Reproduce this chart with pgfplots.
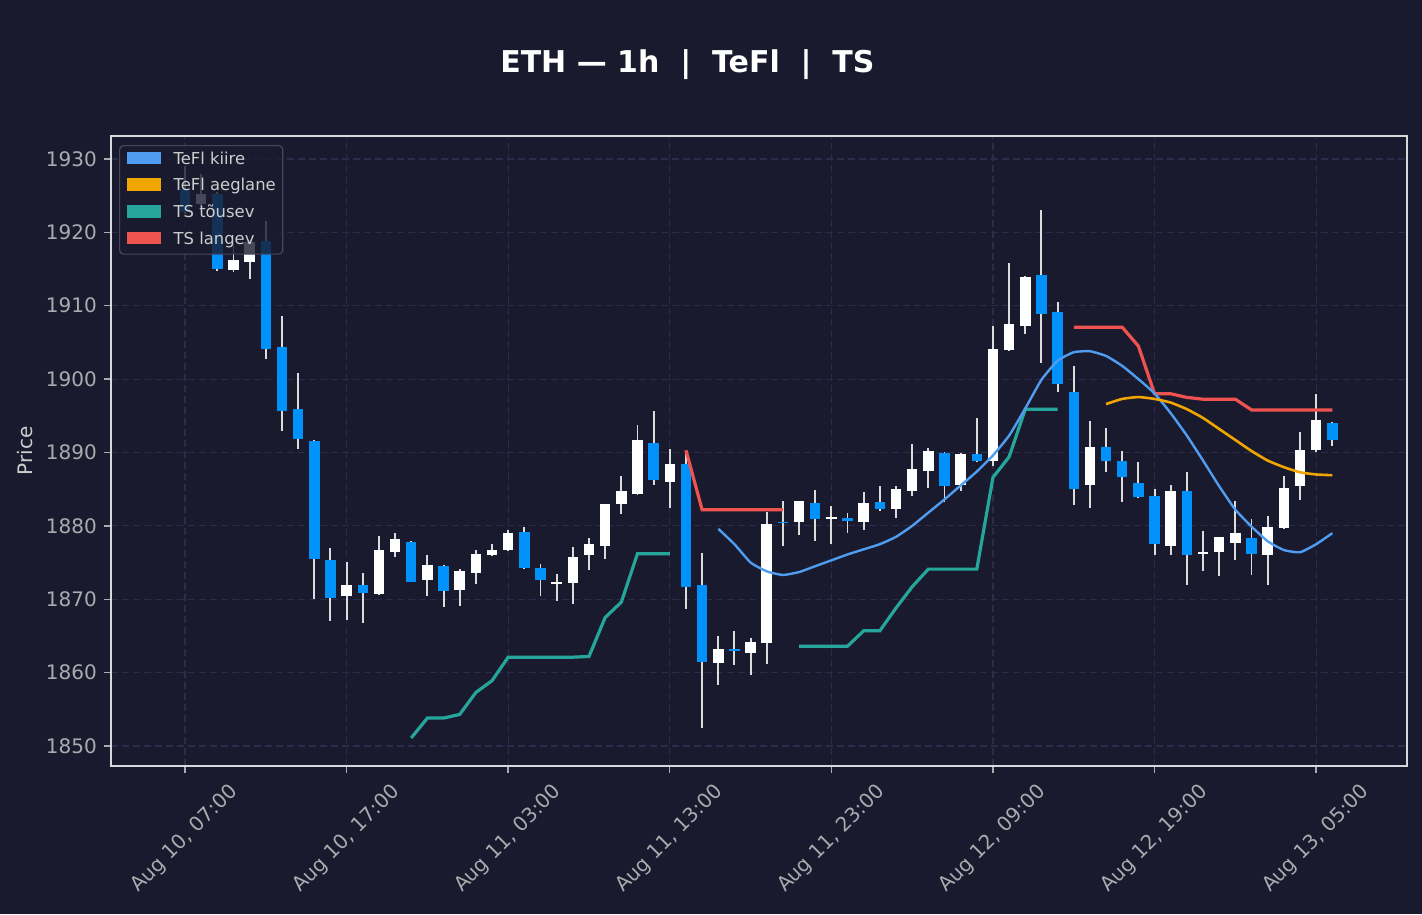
\documentclass[border=0pt]{standalone}
\usepackage{fontspec}
\setmainfont{DejaVu Sans}
\usepackage{pgfplots}
\usepackage{pgfplotstable}
\pgfplotsset{compat=1.18}

\definecolor{bgc}{RGB}{26,26,46}
\definecolor{gridc}{RGB}{44,44,74}
\definecolor{framec}{RGB}{215,215,220}
\definecolor{tickc}{RGB}{170,170,175}
\definecolor{wickc}{RGB}{220,220,220}
\definecolor{bullc}{RGB}{255,255,255}
\definecolor{bearc}{RGB}{0,145,250}
\definecolor{fastc}{RGB}{79,157,240}
\definecolor{slowc}{RGB}{240,165,0}
\definecolor{upc}{RGB}{38,166,154}
\definecolor{downc}{RGB}{239,83,80}
\definecolor{legborder}{RGB}{70,70,95}
\definecolor{legtext}{RGB}{205,205,205}

% hourly candles, i = hours since Aug 10 07:00
\pgfplotstableread{
i o h l c
1 1923.9 1927.9 1923.5 1925.2
3 1914.8 1918.4 1914.6 1916.2
4 1916.0 1919.0 1913.7 1918.7
10 1870.5 1875.1 1867.1 1872.0
12 1870.7 1878.6 1870.6 1876.7
13 1876.5 1879.0 1875.7 1878.2
15 1872.6 1876.0 1870.5 1874.6
17 1871.2 1874.1 1869.1 1873.8
18 1873.6 1876.7 1872.1 1876.1
19 1876.0 1877.5 1875.9 1876.7
20 1876.7 1879.4 1876.6 1879.0
23 1872.1 1873.5 1869.7 1872.4
24 1872.15 1877.1 1869.4 1875.7
25 1876.0 1878.4 1874.0 1877.5
26 1877.3 1883.0 1875.5 1883.0
27 1883.05 1886.8 1881.6 1884.8
28 1884.3 1893.8 1884.2 1891.7
30 1886.0 1890.5 1882.4 1888.4
33 1861.3 1865.0 1858.3 1863.2
35 1862.75 1864.7 1859.7 1864.2
36 1864.0 1881.96 1861.2 1880.2
38 1880.5 1883.4 1878.7 1883.4
40 1881.0 1882.7 1877.5 1881.2
42 1880.6 1884.6 1879.5 1883.1
44 1882.3 1885.5 1881.05 1885.0
45 1884.7 1891.2 1884.1 1887.7
46 1887.5 1890.6 1885.2 1890.2
48 1885.5 1889.9 1884.8 1889.8
50 1888.8 1907.2 1888.2 1904.1
51 1904.0 1915.8 1903.9 1907.5
52 1907.3 1914.0 1906.2 1913.9
56 1885.6 1894.3 1882.5 1890.7
61 1877.2 1885.6 1876.05 1884.7
63 1876.1 1879.3 1873.9 1876.5
64 1876.4 1878.5 1873.2 1878.5
65 1877.7 1883.4 1875.4 1879.0
67 1876.1 1881.3 1871.9 1879.8
68 1879.7 1886.8 1879.6 1885.1
69 1885.4 1892.8 1883.5 1890.4
70 1890.4 1898.0 1890.0 1894.5
}\bull

\pgfplotstableread{
i o h l c
0 1925.9 1929.0 1922.5 1922.8
2 1925.2 1925.5 1914.7 1915.0
5 1918.8 1921.5 1902.8 1904.1
6 1904.4 1908.6 1893.0 1895.6
7 1895.9 1900.9 1890.5 1891.8
8 1891.6 1891.7 1870.1 1875.5
9 1875.3 1877.0 1867.1 1870.1
11 1872.0 1873.6 1866.8 1870.8
14 1877.8 1877.9 1872.3 1872.4
16 1874.5 1874.6 1869.0 1871.1
21 1879.1 1879.9 1874.1 1874.2
22 1874.2 1874.8 1870.4 1872.6
29 1891.3 1895.7 1885.5 1886.2
31 1888.4 1889.9 1868.7 1871.7
32 1871.9 1876.3 1852.5 1861.4
34 1863.2 1865.7 1861.1 1863.0
37 1880.55 1883.4 1877.2 1880.4
39 1883.1 1884.9 1878.0 1880.9
41 1881.05 1881.7 1879.1 1880.7
43 1883.2 1885.5 1882.05 1882.3
47 1890.0 1890.1 1883.2 1885.5
49 1889.8 1894.7 1888.7 1888.8
53 1914.15 1923.1 1902.25 1908.9
54 1909.1 1910.5 1898.2 1899.3
55 1898.3 1901.8 1882.9 1885.0
57 1890.7 1893.3 1887.4 1888.8
58 1888.8 1890.2 1883.2 1886.6
59 1885.8 1888.7 1883.8 1883.9
60 1884.1 1885.0 1876.05 1877.5
62 1884.7 1887.3 1872.0 1876.1
66 1878.3 1880.9 1873.3 1876.1
71 1894.0 1894.1 1890.95 1891.7
}\bear

\pgfplotstableread{
i v
33 1879.6
34 1877.5
35 1875.0
36 1873.8
37 1873.3
38 1873.7
39 1874.5
40 1875.3
41 1876.1
42 1876.8
43 1877.5
44 1878.5
45 1880.0
46 1881.8
47 1883.6
48 1885.5
49 1887.4
50 1889.6
51 1892.3
52 1896.0
53 1899.9
54 1902.5
55 1903.66
56 1903.8
57 1903.15
58 1901.8
59 1900.0
60 1898.05
61 1895.35
62 1892.3
63 1888.9
64 1885.4
65 1882.2
66 1879.9
67 1877.9
68 1876.7
69 1876.4
70 1877.5
71 1879.0
}\fast

\pgfplotstableread{
i v
57 1896.6
58 1897.3
59 1897.55
60 1897.3
61 1896.8
62 1895.9
63 1894.7
64 1893.2
65 1891.7
66 1890.2
67 1888.9
68 1888.0
69 1887.3
70 1887.0
71 1886.9
}\slow

\pgfplotstableread{
i v
14 1851.1
15 1853.8
16 1853.8
17 1854.3
18 1857.3
19 1858.9
20 1862.1
21 1862.1
22 1862.1
23 1862.1
24 1862.1
25 1862.2
26 1867.5
27 1869.6
28 1876.2
29 1876.2
30 1876.2
}\upA

\pgfplotstableread{
i v
38 1863.6
39 1863.6
40 1863.6
41 1863.6
42 1865.7
43 1865.7
44 1868.8
45 1871.7
46 1874.1
47 1874.1
48 1874.1
49 1874.1
50 1886.6
51 1889.4
52 1895.9
53 1895.9
54 1895.9
}\upB

\pgfplotstableread{
i v
31 1890.3
32 1882.2
33 1882.2
34 1882.2
35 1882.2
36 1882.2
37 1882.2
}\downA

\pgfplotstableread{
i v
55 1907.06
56 1907.06
57 1907.06
58 1907.06
59 1904.5
60 1898.0
61 1898.0
62 1897.5
63 1897.26
64 1897.26
65 1897.26
66 1895.8
67 1895.8
68 1895.8
69 1895.8
70 1895.8
71 1895.8
}\downB

\newcommand\tickfont{\fontsize{20}{24}\selectfont}

\begin{document}
\begin{tikzpicture}
\fill[bgc] (0,0) rectangle (1422pt,914pt);
\begin{axis}[
    at={(111pt,148pt)}, anchor=south west,
    scale only axis, width=1296pt, height=630pt,
    xmin=-4.58, xmax=75.62,
    ymin=1847.27, ymax=1933.13,
    axis background/.style={fill=bgc},
    axis line style={draw=framec, line width=1.6pt},
    tick pos=left, tick align=outside,
    major tick length=7pt,
    tick style={draw=tickc, line width=1.4pt},
    xtick={0,10,20,30,40,50,60,70},
    xticklabels={{Aug 10, 07:00},{Aug 10, 17:00},{Aug 11, 03:00},{Aug 11, 13:00},
                 {Aug 11, 23:00},{Aug 12, 09:00},{Aug 12, 19:00},{Aug 13, 05:00}},
    ytick={1850,1860,...,1930},
    /pgf/number format/assume math mode=true,
    /pgf/number format/1000 sep={},
    ticklabel style={font=\tickfont, text=tickc},
    xticklabel style={inner sep=0pt, yshift=-66pt, rotate=45, anchor=center},
    yticklabel style={inner sep=0pt, xshift=-7pt},
    grid=major,
    major grid style={draw=gridc, line width=1.1pt, dash pattern=on 7pt off 4pt},
    ylabel={Price},
    ylabel style={font=\tickfont, text=legtext,
                  at={(axis description cs:-0.0664,0.5)}, anchor=center},
    title={ETH — 1h~~|~~TeFl~~|~~TS},
    title style={font=\bfseries\fontsize{30}{36}\selectfont, text=white,
                 at={(rel axis cs:0.4448,1)}, anchor=base, yshift=57.5pt},
    legend style={at={(rel axis cs:0.0062,0.9857)}, anchor=north west,
                  fill=bgc, fill opacity=0.8, text opacity=1,
                  draw=legborder, line width=1.2pt, rounded corners=4pt,
                  font=\fontsize{16.4}{19}\selectfont, text=legtext,
                  inner xsep=7pt, inner ysep=6pt, row sep=10.3pt,
                  nodes={inner sep=0pt, text height=12pt, text depth=4pt}},
    legend cell align=left,
    legend image code/.code={\fill[#1, fill opacity=1, sharp corners]
        (0pt,-4.3pt) rectangle (34pt,8.4pt);},
]
% legend patches
\addlegendimage{fill=fastc, draw=none}
\addlegendentry{\hspace{13pt}TeFl kiire}
\addlegendimage{fill=slowc, draw=none}
\addlegendentry{\hspace{13pt}TeFl aeglane}
\addlegendimage{fill=upc, draw=none}
\addlegendentry{\hspace{13pt}TS tõusev}
\addlegendimage{fill=downc, draw=none}
\addlegendentry{\hspace{13pt}TS langev}

% wicks
\addplot[draw=none, mark=none, forget plot,
    error bars/.cd, y dir=both, y explicit, error mark=none,
    error bar style={draw=wickc, line width=1.9pt}]
    table[x=i, y expr={(\thisrow{h}+\thisrow{l})/2},
          y error expr={(\thisrow{h}-\thisrow{l})/2}] {\bull};
\addplot[draw=none, mark=none, forget plot,
    error bars/.cd, y dir=both, y explicit, error mark=none,
    error bar style={draw=wickc, line width=1.9pt}]
    table[x=i, y expr={(\thisrow{h}+\thisrow{l})/2},
          y error expr={(\thisrow{h}-\thisrow{l})/2}] {\bear};
% bodies
\addplot[draw=none, mark=none, forget plot,
    error bars/.cd, y dir=both, y explicit, error mark=none,
    error bar style={draw=bullc, line width=10.5pt}]
    table[x=i, y expr={(\thisrow{o}+\thisrow{c})/2},
          y error expr={max(abs(\thisrow{c}-\thisrow{o})/2,0.12)}] {\bull};
\addplot[draw=none, mark=none, forget plot,
    error bars/.cd, y dir=both, y explicit, error mark=none,
    error bar style={draw=bearc, line width=10.5pt}]
    table[x=i, y expr={(\thisrow{o}+\thisrow{c})/2},
          y error expr={max(abs(\thisrow{c}-\thisrow{o})/2,0.12)}] {\bear};

% indicator lines
\addplot[forget plot, draw=upc, line width=3.2pt, mark=none] table[x=i, y=v] {\upA};
\addplot[forget plot, draw=upc, line width=3.2pt, mark=none] table[x=i, y=v] {\upB};
\addplot[forget plot, draw=downc, line width=3.2pt, mark=none] table[x=i, y=v] {\downA};
\addplot[forget plot, draw=downc, line width=3.2pt, mark=none] table[x=i, y=v] {\downB};
\addplot[forget plot, draw=fastc, line width=2.4pt, mark=none, smooth, tension=0.3] table[x=i, y=v] {\fast};
\addplot[forget plot, draw=slowc, line width=2.6pt, mark=none, smooth, tension=0.3] table[x=i, y=v] {\slow};
\end{axis}
\pgfresetboundingbox
\path (0,0) rectangle (1422pt,914pt);
\end{tikzpicture}
\end{document}
